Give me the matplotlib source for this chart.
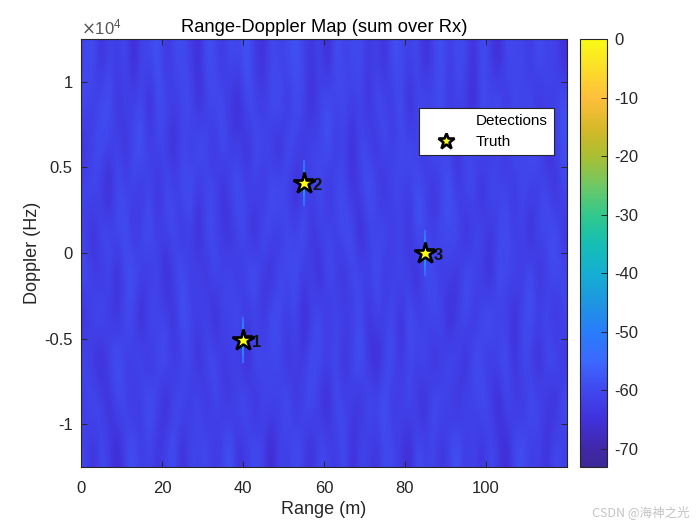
import numpy as np
import matplotlib
matplotlib.use("Agg")
import matplotlib.pyplot as plt
from matplotlib.colors import LinearSegmentedColormap, Normalize
from matplotlib.cm import ScalarMappable

plt.rcParams['font.family'] = ['Liberation Sans', 'DejaVu Sans']
plt.rcParams['axes.unicode_minus'] = False

# noise floor in dB, coarse reading of the map (rows go bottom to top)
noise_db = [
    [-60,-66,-59,-62,-68,-61,-58,-63,-60,-65,-61,-58,-67,-60,-62,-59,-64,-61,-57,-66,-62,-59,-61,-69,-60,-63,-58,-62,-66,-59,-61,-64,-58,-67,-60,-62,-65,-59,-60,-63,-68,-58,-62,-60,-65,-61,-57,-64,-60,-66,-59,-62,-68,-60,-58,-63,-61,-66,-59,-62],
    [-63,-58,-61,-67,-59,-60,-65,-62,-57,-61,-68,-60,-59,-64,-58,-66,-60,-62,-65,-59,-58,-67,-61,-60,-63,-57,-66,-60,-59,-64,-68,-58,-61,-62,-66,-59,-60,-57,-65,-61,-59,-64,-67,-58,-60,-62,-66,-59,-63,-58,-61,-69,-59,-62,-65,-58,-60,-63,-67,-59],
    [-59,-64,-68,-60,-57,-63,-61,-59,-66,-60,-58,-64,-62,-59,-67,-60,-58,-65,-61,-63,-68,-58,-60,-62,-59,-66,-61,-64,-58,-60,-62,-59,-67,-60,-57,-63,-69,-61,-58,-65,-60,-62,-58,-66,-63,-59,-60,-68,-57,-61,-64,-60,-58,-66,-59,-62,-67,-60,-58,-64],
    [-66,-60,-58,-63,-65,-59,-61,-68,-58,-62,-60,-66,-57,-61,-63,-59,-69,-60,-62,-58,-64,-61,-66,-57,-60,-63,-59,-68,-62,-58,-65,-60,-61,-64,-58,-66,-60,-62,-59,-67,-57,-61,-63,-60,-59,-68,-62,-58,-65,-60,-57,-63,-61,-67,-60,-58,-62,-59,-66,-61],
    [-58,-62,-65,-59,-67,-60,-57,-62,-64,-59,-69,-61,-58,-63,-60,-66,-58,-62,-59,-65,-60,-57,-63,-67,-59,-61,-58,-64,-60,-68,-58,-62,-66,-59,-60,-63,-57,-65,-61,-60,-62,-68,-58,-59,-64,-61,-66,-58,-60,-63,-67,-58,-61,-60,-64,-57,-66,-62,-59,-60],
    [-62,-67,-59,-60,-61,-57,-66,-60,-58,-63,-61,-59,-65,-60,-68,-58,-61,-63,-66,-59,-61,-68,-58,-60,-64,-59,-62,-57,-66,-61,-60,-63,-58,-59,-68,-61,-62,-58,-64,-60,-66,-57,-61,-63,-59,-60,-58,-67,-62,-59,-65,-61,-58,-63,-60,-68,-59,-61,-57,-65],
    [-60,-59,-63,-69,-58,-62,-60,-65,-59,-67,-58,-62,-60,-57,-64,-61,-59,-67,-60,-58,-62,-60,-65,-59,-58,-61,-68,-60,-63,-58,-66,-59,-60,-65,-62,-57,-60,-67,-59,-61,-63,-58,-60,-66,-61,-57,-64,-60,-59,-68,-58,-62,-60,-65,-59,-61,-63,-58,-67,-60],
    [-65,-61,-58,-62,-60,-66,-59,-57,-63,-60,-62,-67,-59,-64,-58,-60,-66,-57,-63,-61,-67,-59,-60,-62,-68,-58,-60,-65,-59,-62,-57,-64,-60,-68,-59,-61,-66,-58,-63,-60,-59,-62,-65,-57,-61,-60,-67,-59,-62,-58,-64,-60,-66,-57,-62,-60,-58,-68,-61,-59],
    [-59,-63,-60,-57,-66,-61,-62,-59,-68,-58,-60,-63,-61,-58,-66,-62,-59,-60,-64,-68,-58,-61,-63,-60,-57,-65,-59,-60,-67,-61,-58,-62,-59,-63,-60,-66,-58,-61,-64,-57,-68,-60,-59,-62,-58,-65,-60,-63,-68,-59,-61,-57,-64,-60,-62,-59,-66,-60,-63,-58],
    [-61,-58,-66,-60,-63,-59,-68,-60,-61,-57,-65,-60,-59,-62,-67,-58,-60,-64,-59,-61,-57,-63,-66,-59,-62,-60,-58,-61,-65,-60,-68,-57,-62,-60,-59,-64,-61,-66,-58,-60,-62,-59,-67,-61,-58,-63,-59,-60,-66,-58,-62,-68,-59,-61,-60,-64,-58,-62,-60,-66],
]

truth_range = [40, 55, 85]
truth_doppler = [-5100, 4100, 0]
target_names = ['T1', 'T2', 'T3']

# vertical leakage streak through each target, lower edges of the cells in Hz
streak_edges = [-1200, -900, -600, -300, 300, 600, 900, 1200]
streak_db = [-54, -50, -46, -42, -42, -46, -50, -54]

x_ticks = [0, 20, 40, 60, 80, 100]
y_ticks = [-10000, -5000, 0, 5000, 10000]
y_tick_labels = ['-1', '-0.5', '0', '0.5', '1']
cbar_ticks = [0, -10, -20, -30, -40, -50, -60, -70]

# colorbar colours, low to high
cmap_colors = ['#3c2896', '#4128aa', '#4032dc', '#4048ee', '#3c69ff', '#287dfa',
               '#1e96e1', '#14afd2', '#14beb4', '#32c88c', '#6ec864', '#aabe32',
               '#d7b928', '#ffbe3c', '#f9fb15']
cmap_pos = [0, 3.1, 8.1, 13.1, 18.1, 23.1, 28.1, 33.1, 38.1, 43.1, 48.1, 53.1, 58.1, 63.1, 73.1]

vmin, vmax = -73.1, 0
W, H = 700, 525
dark = '#262626'

cmap = LinearSegmentedColormap.from_list(
    'parula_like', [(p / 73.1, c) for p, c in zip(cmap_pos, cmap_colors)])
norm = Normalize(vmin, vmax)

fig = plt.figure(figsize=(7, 5.25), dpi=100)
ax = fig.add_axes([81 / W, 1 - 467 / H, 486 / W, 428 / H])
cax = fig.add_axes([580 / W, 1 - 467 / H, 27 / W, 428 / H])

ax.imshow(np.array(noise_db), origin='lower', extent=[0, 120, -12500, 12500], aspect='auto',
          interpolation='bicubic', cmap=cmap, norm=norm)

# streaks drawn as thin single column meshes
for r, d in zip(truth_range, truth_doppler):
    ax.pcolormesh([r - 0.25, r + 0.25], np.array(streak_edges + [1500]) - 150 + d,
                  np.array(streak_db)[:, None], cmap=cmap, norm=norm)

ax.plot([], [], linestyle='none', label='Detections')
ax.plot(truth_range, truth_doppler, linestyle='none', marker='*', markersize=16,
        markerfacecolor='#ffff14', markeredgecolor='k', markeredgewidth=1.9,
        label='Truth', zorder=5)
for r, d, name in zip(truth_range, truth_doppler, target_names):
    ax.text(r, d - 150, name, fontsize=12, fontweight='bold', color='#111111', va='center', zorder=4)

ax.set_xlim(0, 120)
ax.set_ylim(-12500, 12500)
ax.set_xticks(x_ticks)
ax.set_yticks(y_ticks)
ax.set_yticklabels(y_tick_labels)
ax.tick_params(direction='in', top=True, right=True, length=4, width=0.7,
               labelsize=12, colors=dark)
ax.tick_params(axis='x', pad=10)
ax.tick_params(axis='y', pad=6)
for s in ax.spines.values():
    s.set_linewidth(0.8)
    s.set_color(dark)
ax.set_xlabel('Range (m)', fontsize=13, color=dark, labelpad=4)
ax.set_ylabel('Doppler (Hz)', fontsize=13, color=dark, labelpad=2)
ax.set_title('Range-Doppler Map (sum over Rx)', fontsize=13.2, color='k', pad=5)
ax.text(0, 1.004, r'$\times\mathdefault{10^{4}}$', transform=ax.transAxes, fontsize=12,
        color='#555555', va='bottom', ha='left')

leg = ax.legend(loc='upper left', bbox_to_anchor=((419 - 81) / 486, (467 - 108) / 428),
                fontsize=11, frameon=True, fancybox=False, framealpha=1, edgecolor=dark,
                borderaxespad=0, borderpad=0.4, labelspacing=0.45, handletextpad=0.6,
                handlelength=2.7, markerscale=0.75)
leg.get_frame().set_linewidth(0.8)

cb = fig.colorbar(ScalarMappable(norm=norm, cmap=cmap), cax=cax)
cb.set_ticks(cbar_ticks)
cb.ax.tick_params(direction='in', length=4, width=0.7, labelsize=12, colors=dark, pad=5)
cb.outline.set_linewidth(0.8)
cb.outline.set_edgecolor(dark)

fig.text(690 / W, 1 - 512 / H, 'CSDN @海神之光', fontsize=9, color='#c4c4c4', ha='right', va='center',
         family=['Noto Sans CJK SC', 'DejaVu Sans'])

fig.savefig('out.png', dpi=100)
